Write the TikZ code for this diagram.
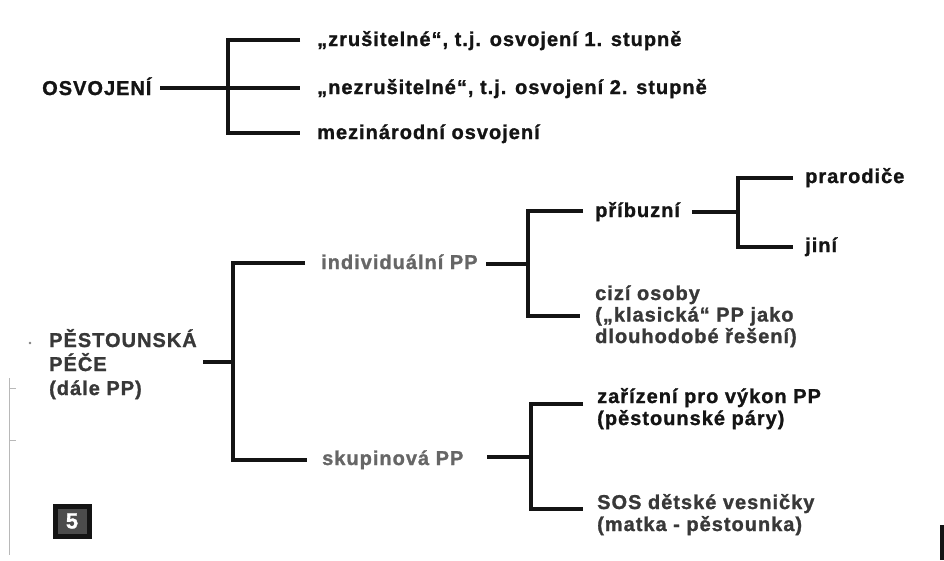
\documentclass[tikz,border=0pt]{standalone}
\usepackage{fontspec}
\setmainfont{Liberation Sans}[LetterSpace=5, BoldFeatures={FakeBold=1.2}]
\definecolor{ink}{HTML}{141414}
\definecolor{inkmid}{HTML}{383838}
\definecolor{inklight}{HTML}{666666}
\definecolor{scan}{HTML}{B8B8B8}
\begin{document}
\begin{tikzpicture}[x=1pt,y=-1pt,
  conn/.style={draw=ink, line width=3.1pt},
  lbl/.style={inner sep=0pt, anchor=base west, align=left, text=ink,
    font=\fontsize{20}{22}\selectfont\bfseries},
  lblmid/.style={lbl, text=inkmid},
  lbllight/.style={lbl, text=inklight},
  numbox/.style={draw=ink, line width=5pt, fill=gray!60!black, minimum width=34pt,
    minimum height=30pt, inner sep=0pt, text=white, font=\fontsize{22}{22}\selectfont\bfseries}]
\useasboundingbox (0,0) rectangle (944,560);
\fill[white] (0,0) rectangle (944,560);

% ---------- OSVOJENI ----------
\node[lbl] (osv) at (42,95) {OSVOJENÍ};
\node[lbl] (o1) at (317,46) {„zrušitelné“, t.j. osvojení 1. stupně};
\node[lbl] (o2) at (317,94) {„nezrušitelné“, t.j. osvojení 2. stupně};
\node[lbl] (o3) at (317,139) {mezinárodní osvojení};

\coordinate (osvR) at (160,88);
\coordinate (jA1) at (228,40);
\coordinate (jA3) at (228,133);
\coordinate (bA1) at (300,40);
\coordinate (bA2) at (300,88);
\coordinate (bA3) at (300,133);
\draw[conn] (osvR) -- (bA2);
\draw[conn] (bA1) -- (jA1) -- (jA3) -- (bA3);

% ---------- PESTOUNSKA PECE ----------
% base anchor of a multi-line node = baseline of its last line
\node[lblmid, font=\fontsize{20}{24}\selectfont\bfseries] (pp) at (49,395) {PĚSTOUNSKÁ\\PÉČE\\(dále PP)};
\node[lbllight] (ind) at (321,269) {individuální PP};
\node[lbllight] (sku) at (322,465) {skupinová PP};

\coordinate (ppR) at (203,362);
\coordinate (jB) at (233,362);
\coordinate (jB1) at (233,263);
\coordinate (jB2) at (233,460);
\coordinate (bB1) at (305,263);
\coordinate (bB2) at (307,460);
\draw[conn] (ppR) -- (jB);
\draw[conn] (bB1) -- (jB1) -- (jB2) -- (bB2);

% ---------- individualni ----------
\node[lbl] (pri) at (595,217) {příbuzní};
\node[lblmid, font=\fontsize{20}{21.5}\selectfont\bfseries] (ciz) at (595,343) {cizí osoby\\(„klasická“ PP jako\\dlouhodobé řešení)};
\node[lbl] (pra) at (805,183) {prarodiče};
\node[lbl] (jin) at (805,252) {jiní};

\coordinate (indR) at (486,264);
\coordinate (jC) at (528,264);
\coordinate (jC1) at (528,211);
\coordinate (jC2) at (528,316);
\coordinate (bC1) at (583,211);
\coordinate (bC2) at (580,316);
\draw[conn] (indR) -- (jC);
\draw[conn] (bC1) -- (jC1) -- (jC2) -- (bC2);

\coordinate (priR) at (692,212);
\coordinate (jD) at (738,212);
\coordinate (jD1) at (738,178);
\coordinate (jD2) at (738,247);
\coordinate (bD1) at (793,178);
\coordinate (bD2) at (793,247);
\draw[conn] (priR) -- (jD);
\draw[conn] (bD1) -- (jD1) -- (jD2) -- (bD2);

% ---------- skupinova ----------
\node[lbl] (zar) at (597,425) {zařízení pro výkon PP\\(pěstounské páry)};
\node[lblmid] (sos) at (597,531) {SOS dětské vesničky\\(matka - pěstounka)};

\coordinate (skuR) at (487,457);
\coordinate (jE) at (531,457);
\coordinate (jE1) at (531,404);
\coordinate (jE2) at (531,509);
\coordinate (bE1) at (583,404);
\coordinate (bE2) at (583,509);
\draw[conn] (skuR) -- (jE);
\draw[conn] (bE1) -- (jE1) -- (jE2) -- (bE2);

% ---------- page number ----------
\node[numbox] (num) at (72,521) {5};

% ---------- scan marks ----------
\draw[scan, line width=1pt] (9,378) -- (9,555);
\draw[scan, line width=1pt] (9,388) -- (16,388);
\draw[scan, line width=1pt] (9,440) -- (16,440);
\fill[gray] (30,343) circle (1.3);
\fill[ink] (940,525) rectangle (944,560);
\end{tikzpicture}
\end{document}
